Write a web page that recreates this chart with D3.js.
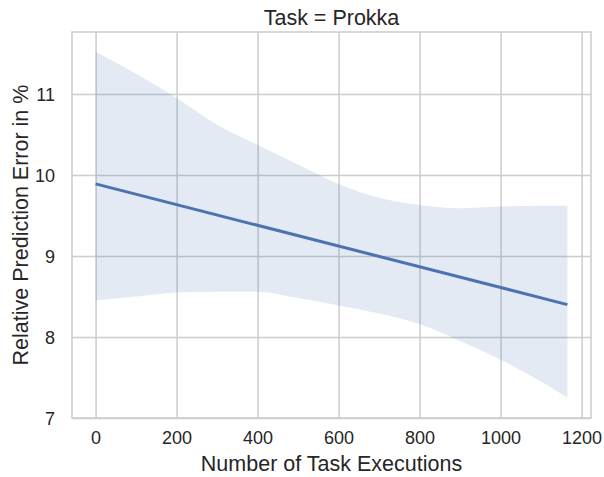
<!DOCTYPE html>
<html>
<head>
<meta charset="utf-8">
<script src="https://cdn.jsdelivr.net/npm/d3@7"></script>
<style>
  html, body { margin: 0; padding: 0; background: #fff; }
  svg { display: block; font-family: "Liberation Sans", Arial, sans-serif; }
</style>
</head>
<body>
<svg id="chart" width="604" height="477"></svg>
<script>
// ---- data ----
const title = "Task = Prokka";
const xLabel = "Number of Task Executions";
const yLabel = "Relative Prediction Error in %";
const xTicks = [0, 200, 400, 600, 800, 1000, 1200];
const yTicks = [7, 8, 9, 10, 11];
const bandX     = [0, 100, 200, 300, 400, 500, 600, 700, 800, 900, 1000, 1100, 1165];
const bandUpper = [11.52, 11.25, 10.95, 10.62, 10.37, 10.13, 9.89, 9.72, 9.63, 9.59, 9.61, 9.62, 9.62];
const bandLower = [8.45, 8.50, 8.55, 8.56, 8.56, 8.48, 8.39, 8.29, 8.16, 7.95, 7.72, 7.45, 7.25];
const lineX = [0, 1165];
const lineY = [9.89, 8.40];

// ---- layout ----
const svg = d3.select("#chart");
const L = 72, R = 591, T = 32, B = 418;
const x = d3.scaleLinear().domain([-58.25, 1223.25]).range([L, R]);
const y = d3.scaleLinear().domain([7.0, 11.765]).range([B, T]);
const textColor = "#262626";
const gridColor = "#cccccc";

// grid
const xAxis = d3.axisBottom(x).tickValues(xTicks).tickSize(-(B - T)).tickPadding(13).tickFormat(d3.format("d"));
const yAxis = d3.axisLeft(y).tickValues(yTicks).tickSize(-(R - L)).tickPadding(17).tickFormat(d3.format("d"));

const gx = svg.append("g").attr("transform", `translate(0,${B})`).call(xAxis);
const gy = svg.append("g").attr("transform", `translate(${L},0)`).call(yAxis);
[gx, gy].forEach(g => {
  g.select(".domain").remove();
  g.selectAll(".tick line").attr("stroke", gridColor).attr("stroke-width", 1.5);
  g.selectAll(".tick text").attr("fill", textColor).attr("font-size", 18)
    .attr("font-family", '"Liberation Sans", Arial, sans-serif');
});
gy.selectAll(".tick text").attr("dy", "0.34em");

// confidence band
const bandData = bandX.map((d, i) => ({ x: d, lo: bandLower[i], hi: bandUpper[i] }));
svg.append("path")
  .datum(bandData)
  .attr("fill", "#4c72b0")
  .attr("fill-opacity", 0.15)
  .attr("d", d3.area().x(d => x(d.x)).y0(d => y(d.lo)).y1(d => y(d.hi)).curve(d3.curveMonotoneX));

// regression line
const lineData = lineX.map((d, i) => ({ x: d, y: lineY[i] }));
svg.append("path")
  .datum(lineData)
  .attr("fill", "none")
  .attr("stroke", "#4c72b0")
  .attr("stroke-width", 3)
  .attr("d", d3.line().x(d => x(d.x)).y(d => y(d.y)));

// frame
svg.append("rect")
  .attr("x", L).attr("y", T).attr("width", R - L).attr("height", B - T)
  .attr("fill", "none").attr("stroke", gridColor).attr("stroke-width", 1.5);

// title and labels
svg.append("text")
  .attr("x", (L + R) / 2).attr("y", 25)
  .attr("text-anchor", "middle").attr("font-size", 21.5).attr("fill", textColor)
  .text(title);
svg.append("text")
  .attr("x", (L + R) / 2).attr("y", 471)
  .attr("text-anchor", "middle").attr("font-size", 21.5).attr("fill", textColor)
  .text(xLabel);
svg.append("text")
  .attr("transform", `translate(28,${(T + B) / 2}) rotate(-90)`)
  .attr("text-anchor", "middle").attr("font-size", 21.5).attr("fill", textColor)
  .text(yLabel);
</script>
</body>
</html>
